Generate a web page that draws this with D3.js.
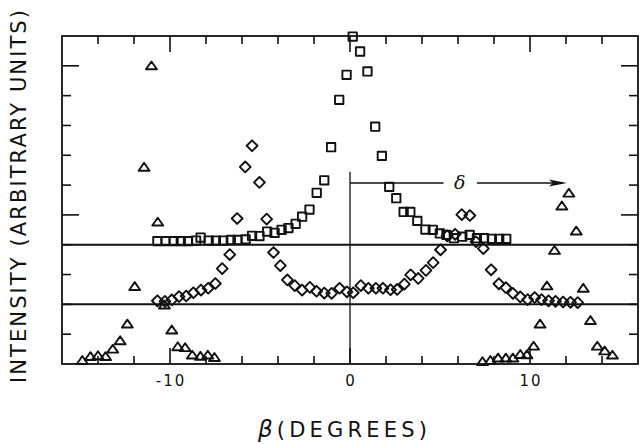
<!DOCTYPE html>
<html>
<head>
<meta charset="utf-8">
<script src="https://cdn.jsdelivr.net/npm/d3@7"></script>
<style>
  body { margin: 0; background: #fff; }
  text { font-family: "DejaVu Sans", sans-serif; fill: #111; }
</style>
</head>
<body>
<div id="my_dataviz"></div>
<script>
// Données : [beta (degrés), intensité]
const carres = [
  [-10.7, 4.12], [-10.25, 4.12], [-9.8, 4.12], [-9.4, 4.12], [-9.0, 4.12], [-8.55, 4.14],
  [-8.3, 4.24], [-7.85, 4.14], [-7.45, 4.14], [-7.04, 4.14], [-6.62, 4.16], [-6.25, 4.16],
  [-5.8, 4.18], [-5.44, 4.3], [-5.03, 4.29], [-4.6, 4.44], [-4.19, 4.4], [-3.8, 4.5],
  [-3.42, 4.56], [-3.02, 4.7], [-2.66, 4.94], [-2.25, 5.18], [-1.85, 5.74], [-1.43, 6.16],
  [-1.05, 7.27], [-0.6, 8.86], [-0.19, 9.7], [0.15, 10.98], [0.56, 10.48], [0.97, 9.81],
  [1.4, 7.96], [1.77, 6.98], [2.18, 5.94], [2.57, 5.56], [2.98, 5.1], [3.35, 5.1],
  [3.74, 4.8], [4.19, 4.51], [4.6, 4.5], [4.99, 4.38], [5.36, 4.33], [5.77, 4.22],
  [6.24, 4.27], [6.65, 4.33], [7.05, 4.22], [7.45, 4.22], [7.88, 4.2], [8.29, 4.2], [8.68, 4.2]
]

const losanges = [
  [-10.7, 2.12], [-10.28, 2.1], [-9.9, 2.15], [-9.5, 2.26], [-9.1, 2.28], [-8.7, 2.39],
  [-8.28, 2.48], [-7.88, 2.54], [-7.48, 2.7], [-7.1, 3.2], [-6.68, 3.67], [-6.27, 4.88],
  [-5.82, 6.61], [-5.44, 7.32], [-5.03, 6.09], [-4.63, 4.86], [-4.25, 3.74], [-3.87, 3.3],
  [-3.48, 2.82], [-3.07, 2.63], [-2.66, 2.48], [-2.23, 2.57], [-1.86, 2.44], [-1.43, 2.38],
  [-1.02, 2.37], [-0.58, 2.54], [-0.17, 2.42], [0.18, 2.39], [0.6, 2.63], [1.02, 2.54],
  [1.44, 2.54], [1.83, 2.54], [2.25, 2.49], [2.62, 2.5], [3.02, 2.68], [3.37, 2.99],
  [3.79, 2.87], [4.22, 3.14], [4.62, 3.4], [5.03, 3.83], [5.4, 4.3], [5.84, 4.35],
  [6.21, 5.01], [6.66, 4.98], [7.0, 4.1], [7.41, 3.87], [7.84, 3.16], [8.27, 2.69],
  [8.66, 2.56], [9.05, 2.37], [9.46, 2.25], [9.87, 2.16], [10.26, 2.23], [10.64, 2.16],
  [11.03, 2.12], [11.42, 2.1], [11.84, 2.08], [12.25, 2.07], [12.65, 2.06]
]

const triangles = [
  [-14.87, 0.12], [-14.42, 0.25], [-14.0, 0.28], [-13.58, 0.25], [-13.18, 0.5], [-12.77, 0.78],
  [-12.37, 1.34], [-11.96, 2.6], [-11.44, 6.6], [-11.03, 10.0], [-10.68, 4.76], [-10.31, 1.98],
  [-9.9, 1.14], [-9.57, 0.58], [-9.16, 0.55], [-8.76, 0.3], [-8.31, 0.26], [-7.9, 0.3], [-7.53, 0.22],
  [7.36, 0.08], [7.8, 0.12], [8.23, 0.2], [8.66, 0.2], [9.05, 0.2], [9.46, 0.32], [9.83, 0.31],
  [10.2, 0.6], [10.56, 1.34], [10.94, 2.62], [11.36, 3.81], [11.77, 5.3], [12.16, 5.73],
  [12.57, 4.46], [12.96, 2.54], [13.36, 1.46], [13.74, 0.6], [14.15, 0.44], [14.58, 0.3]
]

// Graduations et lignes de référence
const xTicks = d3.range(-14, 15, 2)
const xMajor = [-10, 0, 10]
const xLabels = ["-10", "0", "10"]
const yTicks = d3.range(1, 11)
const yMajor = [5, 10]
const baseLines = [2, 4]

// Flèche delta : départ, trou pour le symbole, arrivée
const deltaY = 6.07
const deltaTop = 6.45
const deltaGap = [5.2, 7.05]
const deltaEnd = 12.05
const deltaLabelX = 6.1

// Taille du graphique
var width = 640
var height = 444
const margin = {left: 62, right: 2, top: 36, bottom: 80}

const svg = d3.select("#my_dataviz")
  .append("svg")
    .attr("width", width)
    .attr("height", height)

const x = d3.scaleLinear().domain([-16, 16]).range([margin.left, width - margin.right])
const y = d3.scaleLinear().domain([0, 11]).range([height - margin.bottom, margin.top])

const x0 = x.range()[0], x1 = x.range()[1]
const y0 = y.range()[0], y1 = y.range()[1]

// Graduations vers l'intérieur, sur les quatre côtés
const tickLen = d => xMajor.includes(d) ? 16 : 8
const ytickLen = d => yMajor.includes(d) ? 17 : 9

const ticks = svg.append("g").attr("stroke", "#111").attr("stroke-width", 1.6)
ticks.selectAll(".tb").data(xTicks).join("line")
  .attr("x1", d => x(d)).attr("x2", d => x(d))
  .attr("y1", y0).attr("y2", d => y0 - tickLen(d))
ticks.selectAll(".tt").data(xTicks).join("line")
  .attr("x1", d => x(d)).attr("x2", d => x(d))
  .attr("y1", y1).attr("y2", d => y1 + tickLen(d))
ticks.selectAll(".tl").data(yTicks).join("line")
  .attr("y1", d => y(d)).attr("y2", d => y(d))
  .attr("x1", x0).attr("x2", d => x0 + ytickLen(d))
ticks.selectAll(".tr").data(yTicks).join("line")
  .attr("y1", d => y(d)).attr("y2", d => y(d))
  .attr("x1", x1).attr("x2", d => x1 - ytickLen(d))

// Lignes horizontales de base des courbes décalées
svg.selectAll(".base").data(baseLines).join("line")
  .attr("x1", x0).attr("x2", x1)
  .attr("y1", d => y(d)).attr("y2", d => y(d))
  .attr("stroke", "#111").attr("stroke-width", 2)

// Cadre
svg.append("rect")
  .attr("x", x0).attr("y", y1)
  .attr("width", x1 - x0).attr("height", y0 - y1)
  .attr("fill", "none").attr("stroke", "#111").attr("stroke-width", 1.8)

// Ligne verticale à beta = 0 et flèche delta
const ann = svg.append("g").attr("stroke", "#111").attr("stroke-width", 1.3)
ann.append("line")
  .attr("x1", x(0)).attr("x2", x(0)).attr("y1", y(deltaTop)).attr("y2", y(0))
ann.append("line")
  .attr("x1", x(0)).attr("x2", x(deltaGap[0])).attr("y1", y(deltaY)).attr("y2", y(deltaY))
ann.append("line")
  .attr("x1", x(deltaGap[1])).attr("x2", x(deltaEnd) - 4).attr("y1", y(deltaY)).attr("y2", y(deltaY))
svg.append("path")
  .attr("d", `M${x(deltaEnd)},${y(deltaY)} L${x(deltaEnd) - 18},${y(deltaY) - 3.5} L${x(deltaEnd) - 14},${y(deltaY)} L${x(deltaEnd) - 18},${y(deltaY) + 3.5} Z`)
  .attr("fill", "#111")
svg.append("text")
  .attr("x", x(deltaLabelX)).attr("y", y(deltaY) + 6)
  .attr("text-anchor", "middle")
  .style("font-family", "DejaVu Serif, serif")
  .style("font-style", "italic")
  .style("font-size", "19px")
  .text("δ")

// Formes des marqueurs
const diamond = {draw(ctx, size) {
  const r = Math.sqrt(size) / 2
  ctx.moveTo(0, -r); ctx.lineTo(r, 0); ctx.lineTo(0, r); ctx.lineTo(-r, 0); ctx.closePath()
}}
const tri = {draw(ctx, size) {
  const w = Math.sqrt(size) / 2
  const h = w * 0.8
  ctx.moveTo(0, -h); ctx.lineTo(w, h * 0.8); ctx.lineTo(-w, h * 0.8); ctx.closePath()
}}

const series = [
  {data: carres, type: d3.symbolSquare, size: 70},
  {data: losanges, type: diamond, size: 118},
  {data: triangles, type: tri, size: 120}
]

series.forEach(function(s) {
  svg.append("g")
    .selectAll("path")
    .data(s.data)
    .join("path")
      .attr("transform", d => `translate(${x(d[0])},${y(d[1])})`)
      .attr("d", d3.symbol().type(s.type).size(s.size))
      .attr("fill", "none")
      .attr("stroke", "#111")
      .attr("stroke-width", 1.9)
      .attr("stroke-linejoin", "round")
})

// Étiquettes des graduations
svg.selectAll(".xlab").data(xMajor).join("text")
  .attr("x", d => x(d) + 1)
  .attr("y", 386)
  .attr("text-anchor", "middle")
  .style("font-size", "15px")
  .style("letter-spacing", "2px")
  .text((d, i) => xLabels[i])

// Titres des axes
svg.append("text")
  .attr("x", 258).attr("y", 437)
  .attr("textLength", 169)
  .attr("lengthAdjust", "spacing")
  .style("font-size", "21px")
  .html('<tspan style="font-style:italic;font-size:23px">β</tspan>(DEGREES)')

svg.append("text")
  .attr("transform", "translate(26,383) rotate(-90)")
  .attr("textLength", 373)
  .attr("lengthAdjust", "spacing")
  .style("font-size", "21px")
  .text("INTENSITY (ARBITRARY UNITS)")
</script>
</body>
</html>
